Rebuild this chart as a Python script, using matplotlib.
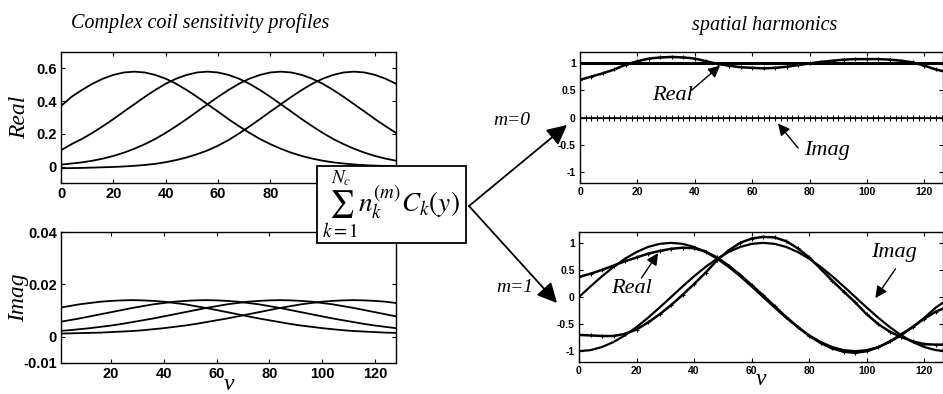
import numpy as np
import matplotlib.pyplot as plt
from matplotlib.patches import Rectangle

plt.rcParams['font.family'] = ['Liberation Sans', 'DejaVu Sans']
plt.rcParams['mathtext.fontset'] = 'stix'

# sample positions (y index)
y_pos = np.arange(0, 129, 4)

# coil sensitivities, real part (4 coils)
real_c1 = [0.37, 0.426, 0.468, 0.506, 0.537, 0.560, 0.575, 0.580,
           0.575, 0.560, 0.537, 0.506, 0.468, 0.426, 0.381, 0.336, 0.290, 0.247, 0.206,
           0.169, 0.137, 0.109, 0.085, 0.065, 0.049, 0.036, 0.026, 0.019, 0.013, 0.009,
           0.006, 0.004, 0.003]
real_c2 = [0.10, 0.137, 0.169, 0.206, 0.247, 0.290, 0.336, 0.381, 0.426, 0.468, 0.506,
           0.537, 0.560, 0.575, 0.580,
           0.575, 0.560, 0.537, 0.506, 0.468, 0.426, 0.381, 0.336, 0.290, 0.247, 0.206,
           0.169, 0.137, 0.109, 0.085, 0.065, 0.049, 0.036]
real_c3 = [0.012, 0.019, 0.026, 0.036, 0.049, 0.065, 0.085, 0.109, 0.137, 0.169, 0.206,
           0.247, 0.290, 0.336, 0.381, 0.426, 0.468, 0.506, 0.537, 0.560, 0.575, 0.580,
           0.575, 0.560, 0.537, 0.506, 0.468, 0.426, 0.381, 0.336, 0.290, 0.247, 0.206]
real_c4 = [-0.010, -0.009, -0.008, -0.006, -0.004, -0.002, 0.001, 0.005, 0.010, 0.017,
           0.027, 0.040, 0.056, 0.076, 0.099, 0.128, 0.162, 0.202, 0.245, 0.290, 0.336,
           0.381, 0.426, 0.468, 0.506, 0.537, 0.560, 0.575, 0.580,
           0.575, 0.560, 0.537, 0.506]

# coil sensitivities, imaginary part
imag_c1 = [0.0110, 0.0117, 0.0124, 0.0129, 0.0134, 0.0137, 0.0139, 0.0140,
           0.0139, 0.0137, 0.0134, 0.0129, 0.0124, 0.0117, 0.0110, 0.0102, 0.0094,
           0.0086, 0.0078, 0.0070, 0.0063, 0.0056, 0.0049, 0.0043, 0.0038, 0.0033,
           0.0029, 0.0025, 0.0022, 0.0020, 0.0018, 0.0016, 0.0015]
imag_c2 = [0.0056, 0.0063, 0.0070, 0.0078, 0.0086, 0.0094, 0.0102, 0.0110, 0.0117,
           0.0124, 0.0129, 0.0134, 0.0137, 0.0139, 0.0140,
           0.0139, 0.0137, 0.0134, 0.0129, 0.0124, 0.0117, 0.0110, 0.0102, 0.0094,
           0.0086, 0.0078, 0.0070, 0.0063, 0.0056, 0.0049, 0.0043, 0.0038, 0.0033]
imag_c3 = [0.0022, 0.0025, 0.0029, 0.0033, 0.0038, 0.0043, 0.0049, 0.0056, 0.0063,
           0.0070, 0.0078, 0.0086, 0.0094, 0.0102, 0.0110, 0.0117, 0.0124, 0.0129,
           0.0134, 0.0137, 0.0139, 0.0140,
           0.0139, 0.0137, 0.0134, 0.0129, 0.0124, 0.0117, 0.0110, 0.0102, 0.0094,
           0.0086, 0.0078]
imag_c4 = [0.0012, 0.0013, 0.0014, 0.0015, 0.0016, 0.0018, 0.0020, 0.0022, 0.0025,
           0.0029, 0.0033, 0.0038, 0.0043, 0.0049, 0.0056, 0.0063, 0.0070, 0.0078,
           0.0086, 0.0094, 0.0102, 0.0110, 0.0117, 0.0124, 0.0129, 0.0134, 0.0137,
           0.0139, 0.0140,
           0.0139, 0.0137, 0.0134, 0.0129]

# spatial harmonic m=0
m0_target = [1.0] * 33
m0_real = [0.69, 0.75, 0.81, 0.88, 0.97, 1.03, 1.08, 1.10, 1.11, 1.10, 1.08, 1.03,
           0.98, 0.95, 0.92, 0.91, 0.90, 0.91, 0.93, 0.96, 0.99, 1.02, 1.04, 1.06,
           1.07, 1.07, 1.07, 1.06, 1.04, 1.01, 0.95, 0.88, 0.83]
y_fine = np.arange(0, 129, 2)
m0_imag = [0.0] * 65

# spatial harmonic m=1
m1_target_re = [0.0, 0.195, 0.383, 0.556, 0.707, 0.831, 0.924, 0.981, 1.0, 0.981,
                0.924, 0.831, 0.707, 0.556, 0.383, 0.195, 0.0, -0.195, -0.383, -0.556,
                -0.707, -0.831, -0.924, -0.981, -1.0, -0.981, -0.924, -0.831, -0.707,
                -0.556, -0.383, -0.195, -0.05]
m1_target_im = [-1.0, -0.981, -0.924, -0.831, -0.707, -0.556, -0.383, -0.195, 0.0,
                0.195, 0.383, 0.556, 0.707, 0.831, 0.924, 0.981, 1.0, 0.981, 0.924,
                0.831, 0.707, 0.556, 0.383, 0.195, 0.0, -0.195, -0.383, -0.556, -0.707,
                -0.831, -0.924, -0.981, -1.0]
m1_real = [0.37, 0.43, 0.50, 0.58, 0.66, 0.73, 0.80, 0.85, 0.89, 0.91, 0.90, 0.84,
           0.73, 0.58, 0.41, 0.22, 0.03, -0.17, -0.37, -0.55, -0.72, -0.85, -0.95,
           -1.01, -1.03, -1.00, -0.93, -0.82, -0.69, -0.55, -0.40, -0.27, -0.18]
m1_imag = [-0.70, -0.71, -0.72, -0.72, -0.68, -0.60, -0.47, -0.32, -0.15, 0.04, 0.24,
           0.45, 0.68, 0.86, 1.00, 1.08, 1.11, 1.10, 1.03, 0.90, 0.73, 0.52, 0.30, 0.10,
           -0.10, -0.32, -0.50, -0.64, -0.74, -0.82, -0.87, -0.88, -0.88]

W, H = 943, 394
fig = plt.figure(figsize=(W / 100, H / 100), dpi=100)


def px_axes(x0, y0, x1, y1):
    return fig.add_axes([x0 / W, 1 - y1 / H, (x1 - x0) / W, (y1 - y0) / H])


serif = dict(family='Liberation Serif', style='italic')


def style(ax, size):
    ax.tick_params(direction='in', top=True, right=True, length=3, width=0.8,
                   labelsize=size, pad=3)
    for lab in ax.get_xticklabels() + ax.get_yticklabels():
        lab.set_fontweight('bold')
    for s in ax.spines.values():
        s.set_linewidth(1.0)


# top-left: real part
ax1 = px_axes(61, 52, 396, 183)
for c in [real_c1, real_c2, real_c3, real_c4]:
    ax1.plot(y_pos, c, color='k', lw=1.3)
ax1.set_xlim(0, 128)
ax1.set_ylim(-0.1, 0.7)
ax1.set_xticks([0, 20, 40, 60, 80, 100, 120])
ax1.set_xticklabels(['0', '20', '40', '60', '80', '', ''])  # rest sits under the box
ax1.set_yticks([0, 0.2, 0.4, 0.6])
ax1.set_yticklabels(['0', '0.2', '0.4', '0.6'])
style(ax1, 10.5)
ax1.set_ylabel('Real', fontsize=17, **serif)
ax1.yaxis.set_label_coords(-0.092, 0.5)

# bottom-left: imaginary part
ax2 = px_axes(61, 232, 396, 363)
for c in [imag_c1, imag_c2, imag_c3, imag_c4]:
    ax2.plot(y_pos, c, color='k', lw=1.3)
ax2.set_xlim(1, 128)
ax2.set_ylim(-0.01, 0.04)
ax2.set_xticks([20, 40, 60, 80, 100, 120])
ax2.set_yticks([-0.01, 0, 0.02, 0.04])
ax2.set_yticklabels(['-0.01', '0', '0.02', '0.04'])
style(ax2, 10.5)
ax2.set_ylabel('Imag', fontsize=17, **serif)
ax2.yaxis.set_label_coords(-0.095, 0.5)
ax2.set_xlabel('v', fontsize=17, labelpad=-5, **serif)

# top-right: m=0
ax3 = px_axes(580, 52, 943, 183)
ax3.plot(y_pos, m0_target, color='k', lw=2.2)
ax3.plot(y_pos, m0_real, color='k', lw=1.8, marker='+', ms=3, mew=0.8)
ax3.plot(y_fine, m0_imag, color='k', lw=1.2, marker='+', ms=4, mew=0.8)
ax3.set_xlim(0, 126.5)
ax3.set_ylim(-1.2, 1.2)
ax3.set_xticks([0, 20, 40, 60, 80, 100, 120])
ax3.set_yticks([-1, -0.5, 0, 0.5, 1])
ax3.set_yticklabels(['-1', '-0.5', '0', '0.5', '1'])
style(ax3, 7.5)
arrow_small = dict(arrowstyle='-|>,head_length=0.5,head_width=0.25', color='k',
                   lw=1.0, mutation_scale=14, shrinkA=0, shrinkB=0)
ax3.text(32.2, 0.4, 'Real', fontsize=16, ha='center', va='center', **serif)
ax3.annotate('', xy=(48.8, 0.95), xytext=(38.9, 0.50), arrowprops=arrow_small)
ax3.text(86, -0.6, 'Imag', fontsize=16, ha='center', va='center', **serif)
ax3.annotate('', xy=(69, -0.11), xytext=(76, -0.56), arrowprops=arrow_small)

# bottom-right: m=1
ax4 = px_axes(579, 232, 943, 362)
ax4.plot(y_pos, m1_target_re, color='k', lw=1.6)
ax4.plot(y_pos, m1_target_im, color='k', lw=1.6)
ax4.plot(y_pos, m1_real, color='k', lw=1.8, marker='+', ms=3, mew=0.8)
ax4.plot(y_pos, m1_imag, color='k', lw=1.8, marker='+', ms=3, mew=0.8)
ax4.set_xlim(0, 126.5)
ax4.set_ylim(-1.2, 1.2)
ax4.set_xticks([0, 20, 40, 60, 80, 100, 120])
ax4.set_yticks([-1, -0.5, 0, 0.5, 1])
ax4.set_yticklabels(['-1', '-0.5', '0', '0.5', '1'])
style(ax4, 7.5)
ax4.set_xlabel('v', fontsize=17, labelpad=-5, **serif)
ax4.text(18.2, 0.15, 'Real', fontsize=16, ha='center', va='center', **serif)
ax4.annotate('', xy=(27.5, 0.81), xytext=(21.7, 0.35), arrowprops=arrow_small)
ax4.text(109.4, 0.83, 'Imag', fontsize=16, ha='center', va='center', **serif)
ax4.annotate('', xy=(103, -0.02), xytext=(110, 0.52), arrowprops=arrow_small)

# overlay in pixel coordinates: titles, formula box, big arrows
ov = fig.add_axes([0, 0, 1, 1], zorder=10)
ov.set_xlim(0, W)
ov.set_ylim(H, 0)
ov.axis('off')
ov.patch.set_alpha(0)
ov.text(200, 23, 'Complex coil sensitivity profiles', fontsize=14.5, ha='center',
        va='center', **serif)
ov.text(765, 25, 'spatial harmonics', fontsize=14.5, ha='center', va='center', **serif)
ov.add_patch(Rectangle((317, 166), 149, 77, facecolor='white', edgecolor='k', lw=1.3))
ov.text(391, 205, r'$\sum_{k=1}^{N_c} n_k^{(m)} C_k(y)$', fontsize=19.5,
        ha='center', va='center')
arrow_big = dict(arrowstyle='-|>,head_length=0.6,head_width=0.3', color='k',
                 lw=1.3, mutation_scale=20, shrinkA=0, shrinkB=0)
ov.annotate('', xy=(567, 125), xytext=(469, 206), arrowprops=arrow_big)
ov.annotate('', xy=(557, 303), xytext=(469, 206), arrowprops=arrow_big)
ov.text(512, 120, 'm=0', fontsize=14, ha='center', va='center', **serif)
ov.text(515, 288, 'm=1', fontsize=14, ha='center', va='center', **serif)

fig.savefig('out.png', dpi=100)
